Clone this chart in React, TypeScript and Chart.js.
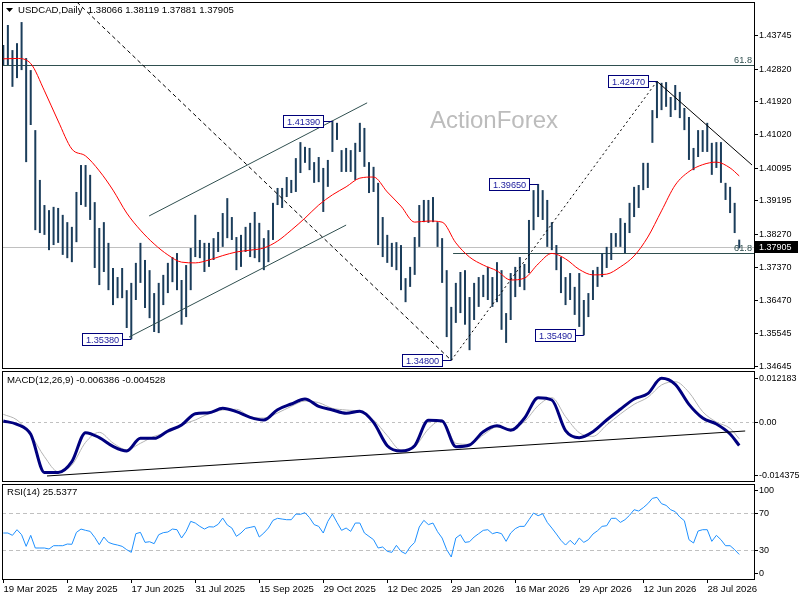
import React, { useEffect, useRef } from "react";
import { Chart, registerables } from "chart.js";
Chart.register(...registerables);

// ---------- DATA ----------
const SYMBOL = "USDCAD,Daily";
const LAST_OHLC = [1.38066, 1.38119, 1.37881, 1.37905];

const HIGHS = [
  1.4347, 1.4402, 1.4333, 1.4352, 1.4410, 1.4311, 1.4278, 1.4113, 1.3976, 1.3907,
  1.3893, 1.3902, 1.3899, 1.3880, 1.3860, 1.3847, 1.3943, 1.4017, 1.4017, 1.3990,
  1.3915, 1.3844, 1.3860, 1.3803, 1.3734, 1.3709, 1.3734, 1.3673, 1.3693, 1.3748,
  1.3803, 1.3756, 1.3728, 1.3665, 1.3693, 1.3715, 1.3748, 1.3764, 1.3775, 1.3701,
  1.3742, 1.3789, 1.3880, 1.3811, 1.3803, 1.3803, 1.3816, 1.3833, 1.3885, 1.3926,
  1.3874, 1.3819, 1.3825, 1.3847, 1.3858, 1.3888, 1.3858, 1.3816, 1.3838, 1.3913,
  1.3954, 1.3954, 1.3984, 1.3976, 1.4036, 1.4080, 1.4067, 1.4064, 1.4025, 1.4039,
  1.4009, 1.4031, 1.4139, 1.4133, 1.4058, 1.4064, 1.4058, 1.4078, 1.4133, 1.4119,
  1.4025, 1.4012, 1.3968, 1.3874, 1.3825, 1.3803, 1.3805, 1.3797, 1.3706, 1.3737,
  1.3819, 1.3907, 1.3921, 1.3921, 1.3929, 1.3860, 1.3816, 1.3728, 1.3627, 1.3693,
  1.3723, 1.3728, 1.3654, 1.3693, 1.3709, 1.3715, 1.3737, 1.3709, 1.3750, 1.3728,
  1.3610, 1.3720, 1.3737, 1.3764, 1.3745, 1.3866, 1.3948, 1.3965, 1.3948, 1.3921,
  1.3860, 1.3797, 1.3764, 1.3709, 1.3720, 1.3682, 1.3720, 1.3646, 1.3665, 1.3728,
  1.3737, 1.3775, 1.3792, 1.3830, 1.3830, 1.3871, 1.3858, 1.3913, 1.3957, 1.3962,
  1.4023, 1.4023, 1.4168, 1.4247, 1.4243, 1.4245, 1.4204, 1.4237, 1.4218, 1.4174,
  1.4149, 1.4064, 1.4113, 1.4113, 1.4133, 1.4078, 1.4080, 1.4080, 1.3968, 1.3957,
  1.3913, 1.38119,
];

const LOWS = [
  1.4292, 1.4292, 1.4232, 1.4256, 1.4278, 1.4025, 1.4127, 1.3838, 1.3830, 1.3825,
  1.3783, 1.3797, 1.3803, 1.3770, 1.3761, 1.3750, 1.3805, 1.3907, 1.3902, 1.3866,
  1.3734, 1.3687, 1.3723, 1.3673, 1.3632, 1.3651, 1.3651, 1.3569, 1.3538, 1.3646,
  1.3693, 1.3624, 1.3596, 1.3558, 1.3555, 1.3632, 1.3665, 1.3695, 1.3673, 1.3578,
  1.3599, 1.3673, 1.3764, 1.3761, 1.3723, 1.3737, 1.3756, 1.3778, 1.3792, 1.3816,
  1.3811, 1.3728, 1.3737, 1.3778, 1.3764, 1.3761, 1.3750, 1.3728, 1.3750, 1.3811,
  1.3907, 1.3899, 1.3929, 1.3940, 1.3943, 1.3995, 1.4023, 1.4003, 1.3968, 1.3970,
  1.3888, 1.3957, 1.4053, 1.4086, 1.3998, 1.3998, 1.3998, 1.3976, 1.4053, 1.4012,
  1.3940, 1.3943, 1.3797, 1.3764, 1.3748, 1.3737, 1.3728, 1.3673, 1.3640, 1.3682,
  1.3715, 1.3792, 1.3860, 1.3858, 1.3860, 1.3792, 1.3693, 1.3544, 1.3480, 1.3583,
  1.3610, 1.3578, 1.3508, 1.3591, 1.3627, 1.3654, 1.3646, 1.3627, 1.3640, 1.3564,
  1.3528, 1.3591, 1.3654, 1.3682, 1.3673, 1.3720, 1.3838, 1.3874, 1.3866, 1.3792,
  1.3783, 1.3728, 1.3665, 1.3632, 1.3646, 1.3605, 1.3572, 1.3549, 1.3599, 1.3646,
  1.3682, 1.3709, 1.3734, 1.3756, 1.3792, 1.3792, 1.3775, 1.3830, 1.3874, 1.3899,
  1.3948, 1.3954, 1.4078, 1.4146, 1.4168, 1.4177, 1.4149, 1.4168, 1.4146, 1.4113,
  1.4031, 1.4003, 1.4039, 1.4053, 1.4053, 1.3990, 1.4009, 1.3968, 1.3921, 1.3885,
  1.3830, 1.37881,
];

// indicator values sampled every 3 bars (last one on the last bar)
const SAMPLE_STEP = 3;
const MA_VALUES = [
  1.4309, 1.4310, 1.4296, 1.4221, 1.4138, 1.4061, 1.4042, 1.4001, 1.3948, 1.3885,
  1.3838, 1.3800, 1.3770, 1.3750, 1.3748, 1.3756, 1.3768, 1.3778, 1.3783, 1.3789,
  1.3808, 1.3838, 1.3871, 1.3907, 1.3935, 1.3957, 1.3981, 1.3984, 1.3943, 1.3904,
  1.3860, 1.3863, 1.3860, 1.3803, 1.3764, 1.3742, 1.3726, 1.3701, 1.3706, 1.3745,
  1.3774, 1.3759, 1.3730, 1.3715, 1.3717, 1.3737, 1.3767, 1.3819, 1.3891, 1.3962,
  1.3999, 1.4018, 1.4025, 1.4009, 1.3987,
];
const MACD_MAIN = [
  0.00036, -0.00056, -0.00331, -0.0138, -0.0138, -0.01083, -0.00285, -0.0042, -0.00661, -0.00789,
  -0.00441, -0.00441, -0.00239, -0.00074, 0.00237, 0.00265, 0.00384, 0.00292, 0.00137, 0.00063,
  0.00347, 0.00503, 0.00641, 0.00439, 0.00338, 0.00247, 0.00302, -0.00001, -0.00643, -0.00789,
  -0.00643, 0.00054, 0.00036, -0.0067, -0.00624, -0.00258, -0.00093, -0.00221, 0.00109, 0.00677,
  0.00613, -0.0023, -0.00423, -0.00258, 0.00063, 0.00357, 0.00641, 0.00787, 0.01209, 0.01044,
  0.00494, 0.00118, -0.00047, -0.00322, -0.006386,
];
const MACD_SIGNAL = [
  0.00219, 0.00063, -0.00349, -0.00945, -0.01357, -0.01174, -0.00551, -0.00276, -0.00569, -0.00753,
  -0.00578, -0.00386, -0.00285, -0.00074, 0.00063, 0.00237, 0.00338, 0.00357, 0.00155, 0.00118,
  0.00256, 0.00439, 0.00586, 0.0054, 0.00384, 0.00338, 0.00292, 0.00063, -0.00368, -0.00762,
  -0.0067, -0.00184, 0.00063, -0.00578, -0.00606, -0.00349, -0.00129, -0.00175, 0.00017, 0.00457,
  0.00677, 0.00155, -0.00285, -0.00386, -0.00074, 0.00228, 0.00494, 0.00687, 0.01026, 0.01117,
  0.00824, 0.00292, 0.00008, -0.00166, -0.004528,
];
const RSI_VALUES = [
  48.7, 48.7, 46.2, 52.3, 46.9, 34.3, 46.2, 32.5, 32.5, 32.5,
  31.4, 35.0, 35.0, 35.0, 36.8, 36.5, 49.4, 53.0, 51.6, 50.5,
  44.0, 36.1, 44.4, 38.6, 36.8, 35.7, 34.3, 30.7, 27.8, 48.0,
  49.4, 38.6, 39.3, 37.2, 46.9, 49.1, 49.8, 53.0, 52.3, 43.3,
  50.5, 61.3, 59.5, 55.9, 53.0, 55.5, 55.2, 58.1, 64.9, 57.4,
  54.1, 45.1, 48.7, 53.7, 54.8, 55.9, 44.4, 48.7, 54.1, 62.4,
  64.6, 63.8, 63.1, 63.1, 69.2, 68.9, 70.7, 65.3, 57.8, 55.9,
  48.7, 61.3, 69.2, 60.2, 51.6, 54.1, 50.5, 59.5, 59.5, 48.7,
  45.1, 41.5, 32.5, 33.6, 28.9, 27.8, 35.4, 28.9, 26.3, 33.6,
  38.6, 55.2, 62.4, 57.8, 59.5, 50.1, 43.3, 30.7, 22.8, 43.3,
  46.9, 38.6, 39.3, 44.4, 48.0, 51.6, 52.3, 48.0, 49.4, 48.0,
  39.7, 48.7, 53.4, 55.9, 55.9, 63.1, 70.3, 67.4, 69.6, 60.2,
  54.1, 47.6, 40.8, 35.7, 40.8, 36.1, 43.3, 38.6, 41.5, 47.6,
  51.2, 55.9, 56.6, 64.6, 64.6, 60.2, 63.1, 67.8, 73.9, 72.5,
  76.1, 80.4, 86.2, 87.3, 80.4, 78.6, 73.9, 71.8, 66.0, 62.0,
  41.5, 37.9, 50.9, 52.3, 52.3, 39.7, 46.2, 41.5, 35.0, 35.0,
  30.7, 25.5377,
];

const DATE_LABELS = [
  "19 Mar 2025", "2 May 2025", "17 Jun 2025", "31 Jul 2025", "15 Sep 2025", "29 Oct 2025",
  "12 Dec 2025", "29 Jan 2026", "16 Mar 2026", "29 Apr 2026", "12 Jun 2026", "28 Jul 2026",
];
const BARS_PER_LABEL = 14;

const PRICE_TICKS = [1.43745, 1.4282, 1.4192, 1.4102, 1.40095, 1.39195, 1.3827, 1.3737, 1.3647, 1.35545, 1.34645];
const MACD_TICKS = [0.012183, 0, -0.014375];
const MACD_TICK_TEXT = ["0.012183", "0.00", "-0.014375"];
const RSI_TICKS = [100, 70, 30, 0];
const RSI_LEVELS = [70, 30];

const PEAK_LABELS = [
  { bar: 28, price: 1.3538, text: "1.35380" },
  { bar: 72, price: 1.4139, text: "1.41390" },
  { bar: 98, price: 1.348, text: "1.34800" },
  { bar: 117, price: 1.3965, text: "1.39650" },
  { bar: 127, price: 1.3549, text: "1.35490" },
  { bar: 143, price: 1.4247, text: "1.42470" },
];

// trend lines as [bar, value] pairs
const LINE_DASHED = [[16.1, 1.4465], [98, 1.348]];
const LINE_DOTTED = [[98, 1.348], [143, 1.4247]];
const LINE_FALLING = [[143, 1.4247], [163.8, 1.4017]];
const CHANNEL_UPPER = [[31.9, 1.3877], [79.6, 1.4188]];
const CHANNEL_LOWER = [[27.5, 1.3544], [75.0, 1.3852]];
const MACD_TREND = [[9.56, -0.01476], [162.3, -0.00239]];
const FIB_TOP = 1.4292;
const FIB_LOW = 1.3775;
const FIB_LOW_START = 98.4;

// scale ranges
const X_MIN = -0.284;
const X_MAX = 164.23;
const PRICE_MIN = 1.3459;
const PRICE_MAX = 1.44652;
const MACD_MIN = -0.01614;
const MACD_MAX = 0.014105;
const RSI_MIN = -1.0;
const RSI_MAX = 101.7;

// ---------- STYLE ----------
const FONT = '9.2px "Liberation Sans", Arial, sans-serif';
const AXIS_FONT = '9px "Liberation Sans", Arial, sans-serif';
const TITLE_FONT = '9.6px "Liberation Sans", Arial, sans-serif';
const BAR_COLOR = "#1b3d5b";
const SLATE = "#2f4f4f";

const N = HIGHS.length;
const sampled = (vals: number[]) =>
  vals.map((v, k) => ({ x: Math.min(k * SAMPLE_STEP, N - 1), y: v }));
const pts = (arr: number[][]) => arr.map(([x, y]) => ({ x, y }));

function frame(chart: any) {
  const { ctx, chartArea: a } = chart;
  ctx.save();
  ctx.strokeStyle = "#000";
  ctx.lineWidth = 1;
  ctx.strokeRect(a.left + 0.5, a.top + 0.5, a.right - a.left, a.bottom - a.top);
  ctx.restore();
}

function axisLabels(chart: any, values: number[], texts: string[], clamp: boolean) {
  const { ctx, chartArea: a } = chart;
  const ys = chart.scales.y;
  ctx.save();
  ctx.font = AXIS_FONT;
  ctx.fillStyle = "#000";
  ctx.textAlign = "left";
  ctx.textBaseline = "middle";
  values.forEach((v, i) => {
    let py = ys.getPixelForValue(v);
    if (clamp) py = Math.min(Math.max(py, a.top + 6), a.bottom - 6);
    ctx.fillRect(a.right + 1, Math.round(py), 3, 1);
    ctx.fillText(texts[i], a.right + 5, py + 0.5);
  });
  ctx.restore();
}

function hLine(chart: any, value: number, color: string, fromX?: number, dash?: number[]) {
  const { ctx, chartArea: a } = chart;
  const py = Math.round(chart.scales.y.getPixelForValue(value)) + 0.5;
  const x0 = fromX === undefined ? a.left : chart.scales.x.getPixelForValue(fromX);
  ctx.save();
  ctx.strokeStyle = color;
  ctx.lineWidth = 1;
  if (dash) ctx.setLineDash(dash);
  ctx.beginPath();
  ctx.moveTo(x0, py);
  ctx.lineTo(a.right, py);
  ctx.stroke();
  ctx.restore();
}

const pricePlugin = {
  id: "pricePane",
  beforeDatasetsDraw(chart: any) {
    const { ctx, chartArea: a } = chart;
    ctx.save();
    ctx.font = '24px "Liberation Sans", Arial, sans-serif';
    ctx.fillStyle = "#bcbcbc";
    ctx.textBaseline = "alphabetic";
    ctx.fillText("ActionForex", a.left + 428, a.top + 126);
    ctx.restore();
    hLine(chart, LAST_OHLC[3], "#c0c0c0");
    hLine(chart, FIB_TOP, SLATE);
    hLine(chart, FIB_LOW, SLATE, FIB_LOW_START);
  },
  afterDatasetsDraw(chart: any) {
    const { ctx, chartArea: a, scales } = chart;
    const xs = scales.x, ys = scales.y;
    ctx.save();
    ctx.font = FONT;
    // fib texts
    ctx.fillStyle = SLATE;
    ctx.textAlign = "right";
    ctx.textBaseline = "alphabetic";
    ctx.fillText("61.8", a.right - 2, ys.getPixelForValue(FIB_TOP) - 2);
    ctx.fillText("61.8", a.right - 2, ys.getPixelForValue(FIB_LOW) - 2);
    // peak labels
    ctx.textAlign = "left";
    ctx.textBaseline = "middle";
    PEAK_LABELS.forEach(({ bar, price, text }) => {
      const px = xs.getPixelForValue(bar);
      const py = Math.round(ys.getPixelForValue(price));
      const w = Math.round(ctx.measureText(text).width + 7);
      const h = 12;
      const right = Math.round(px - 9);
      ctx.fillStyle = "#fff";
      ctx.fillRect(right - w, py - h / 2, w, h);
      ctx.strokeStyle = "#00007a";
      ctx.lineWidth = 1;
      ctx.strokeRect(right - w + 0.5, py - h / 2 + 0.5, w, h);
      ctx.beginPath();
      ctx.moveTo(right, py + 0.5);
      ctx.lineTo(px, py + 0.5);
      ctx.stroke();
      ctx.fillStyle = "#1a1a9c";
      ctx.fillText(text, right - w + 4, py + 1);
    });
    // title
    ctx.fillStyle = "#000";
    ctx.beginPath();
    ctx.moveTo(6, 8);
    ctx.lineTo(13, 8);
    ctx.lineTo(9.5, 12);
    ctx.closePath();
    ctx.fill();
    ctx.font = TITLE_FONT;
    ctx.fillText(SYMBOL + "  " + LAST_OHLC.map((v) => v.toFixed(5)).join(" "), 18, 10.5);
    ctx.restore();
    frame(chart);
    axisLabels(chart, PRICE_TICKS, PRICE_TICKS.map((v) => v.toFixed(5)), false);
    // current price tag
    const py = ys.getPixelForValue(LAST_OHLC[3]);
    ctx.save();
    ctx.fillStyle = "#000";
    ctx.fillRect(a.right + 1, Math.round(py) - 6, 797 - a.right, 12);
    ctx.fillStyle = "#fff";
    ctx.font = AXIS_FONT;
    ctx.textBaseline = "middle";
    ctx.fillText(LAST_OHLC[3].toFixed(5), a.right + 5, py + 0.5);
    ctx.restore();
  },
};

const macdPlugin = {
  id: "macdPane",
  beforeDatasetsDraw(chart: any) {
    hLine(chart, 0, "#c0c0c0", undefined, [3, 3]);
  },
  afterDatasetsDraw(chart: any) {
    const { ctx } = chart;
    ctx.save();
    ctx.font = TITLE_FONT;
    ctx.fillStyle = "#000";
    ctx.textBaseline = "middle";
    ctx.fillText(
      "MACD(12,26,9) " + MACD_MAIN[MACD_MAIN.length - 1].toFixed(6) + " " + MACD_SIGNAL[MACD_SIGNAL.length - 1].toFixed(6),
      7,
      11.5
    );
    ctx.restore();
    frame(chart);
    axisLabels(chart, MACD_TICKS, MACD_TICK_TEXT, false);
  },
};

const rsiPlugin = {
  id: "rsiPane",
  beforeDatasetsDraw(chart: any) {
    RSI_LEVELS.forEach((lv) => hLine(chart, lv, "#c0c0c0", undefined, [4, 3]));
  },
  afterDatasetsDraw(chart: any) {
    const { ctx, chartArea: a, scales } = chart;
    ctx.save();
    ctx.font = TITLE_FONT;
    ctx.fillStyle = "#000";
    ctx.textBaseline = "middle";
    ctx.fillText("RSI(14) " + RSI_VALUES[RSI_VALUES.length - 1].toFixed(4), 7, 10.5);
    ctx.textAlign = "left";
    DATE_LABELS.forEach((lab, k) => {
      const px = Math.round(scales.x.getPixelForValue(k * BARS_PER_LABEL));
      ctx.fillRect(px, a.bottom, 1, 4);
      ctx.fillText(lab, px + 0.5, a.bottom + 10);
    });
    ctx.restore();
    frame(chart);
    axisLabels(chart, RSI_TICKS, RSI_TICKS.map((v) => String(v)), true);
  },
};

const baseOptions = (yMin: number, yMax: number, padBottom: number) => ({
  responsive: false,
  animation: false as const,
  devicePixelRatio: 1,
  events: [],
  layout: { padding: { left: 2, right: 46, top: 2, bottom: padBottom } },
  plugins: { legend: { display: false }, tooltip: { enabled: false } },
  scales: {
    x: { type: "linear" as const, min: X_MIN, max: X_MAX, display: false, offset: false },
    y: { type: "linear" as const, min: yMin, max: yMax, display: false },
  },
});

const lineDs = (data: any[], color: string, width: number, extra: any = {}) => ({
  type: "line" as const,
  data,
  borderColor: color,
  borderWidth: width,
  pointRadius: 0,
  fill: false,
  ...extra,
});

export default function App() {
  const priceRef = useRef<HTMLCanvasElement>(null);
  const macdRef = useRef<HTMLCanvasElement>(null);
  const rsiRef = useRef<HTMLCanvasElement>(null);

  useEffect(() => {
    document.body.style.margin = "0";
    const bars = HIGHS.map((h, i) => ({ x: i, y: [LOWS[i], h] }));
    const price = new Chart(priceRef.current as HTMLCanvasElement, {
      type: "bar",
      data: {
        datasets: [
          {
            type: "bar",
            data: bars as any,
            backgroundColor: BAR_COLOR,
            barThickness: 2,
            borderWidth: 0,
            inflateAmount: 0,
            order: 10,
          } as any,
          lineDs(sampled(MA_VALUES), "#ff0000", 1, { cubicInterpolationMode: "monotone", order: 5 }),
          lineDs(pts(LINE_DASHED), "#000", 1, { borderDash: [4, 3], order: 1 }),
          lineDs(pts(LINE_DOTTED), "#000", 1, { borderDash: [2, 3], order: 1 }),
          lineDs(pts(LINE_FALLING), "#000", 1, { order: 1 }),
          lineDs(pts(CHANNEL_UPPER), SLATE, 1, { order: 1 }),
          lineDs(pts(CHANNEL_LOWER), SLATE, 1, { order: 1 }),
        ],
      },
      options: baseOptions(PRICE_MIN, PRICE_MAX, 2) as any,
      plugins: [pricePlugin],
    });
    const macd = new Chart(macdRef.current as HTMLCanvasElement, {
      type: "line",
      data: {
        datasets: [
          lineDs(sampled(MACD_SIGNAL), "#b4b4b4", 1, { cubicInterpolationMode: "monotone", order: 3 }),
          lineDs(sampled(MACD_MAIN), "#00007f", 3, { cubicInterpolationMode: "monotone", order: 2 }),
          lineDs(pts(MACD_TREND), "#000", 1, { order: 1 }),
        ],
      },
      options: baseOptions(MACD_MIN, MACD_MAX, 2) as any,
      plugins: [macdPlugin],
    });
    const rsi = new Chart(rsiRef.current as HTMLCanvasElement, {
      type: "line",
      data: {
        datasets: [lineDs(RSI_VALUES.map((v, i) => ({ x: i, y: v })), "#1e90ff", 1)],
      },
      options: baseOptions(RSI_MIN, RSI_MAX, 21) as any,
      plugins: [rsiPlugin],
    });
    return () => {
      price.destroy();
      macd.destroy();
      rsi.destroy();
    };
  }, []);

  return (
    <div style={{ position: "relative", width: 800, height: 600, background: "#fff", overflow: "hidden" }}>
      <canvas ref={priceRef} width={800} height={370} style={{ position: "absolute", left: 0, top: 0 }} />
      <canvas ref={macdRef} width={800} height={114} style={{ position: "absolute", left: 0, top: 369 }} />
      <canvas ref={rsiRef} width={800} height={118} style={{ position: "absolute", left: 0, top: 482 }} />
    </div>
  );
}
